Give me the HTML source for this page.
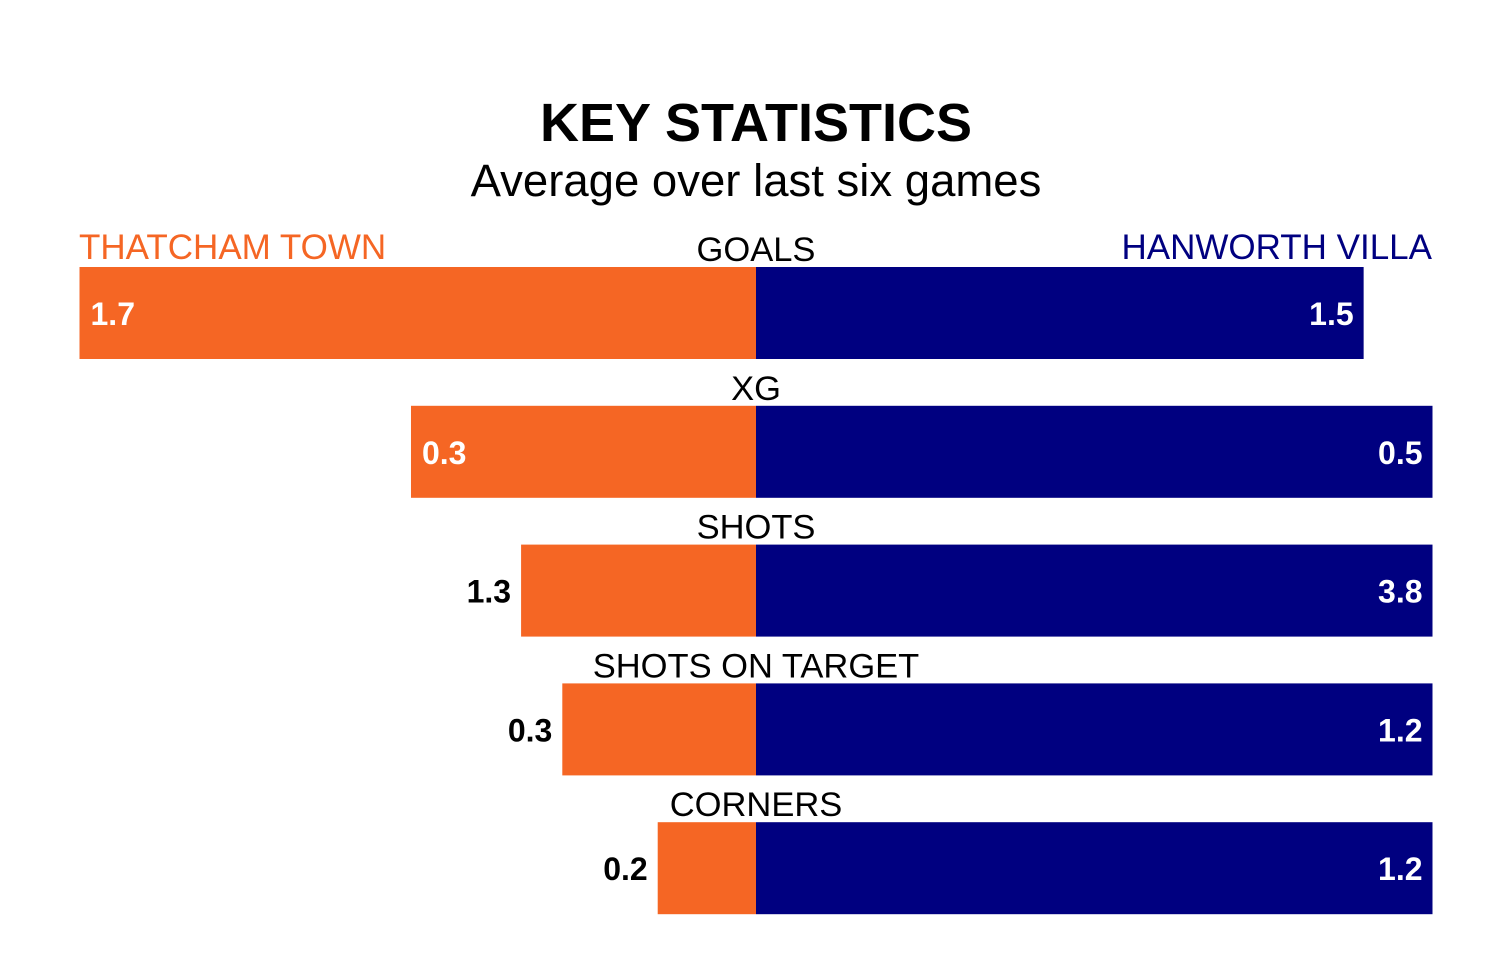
<!DOCTYPE html>
<html><head><meta charset="utf-8">
<style>
body{margin:0;background:#fff;}
svg{display:block;font-family:"Liberation Sans",Arial,sans-serif;}
</style></head>
<body>
<svg id="chart" width="1500" height="963" viewBox="0 0 1500 963">
<rect width="1500" height="963" fill="#fff"/>
<text x="756" y="141" text-anchor="middle" font-size="54" font-weight="bold" fill="#000">KEY STATISTICS</text>
<text x="756" y="196" text-anchor="middle" font-size="45.5" fill="#000">Average over last six games</text>
<text x="79" y="259" font-size="35" fill="#F56624">THATCHAM TOWN</text>
<text x="1432" y="259" text-anchor="end" font-size="35" fill="#000080">HANWORTH VILLA</text>
<g id="bars"></g>
</svg>
<script>
const categories = ["GOALS","XG","SHOTS","SHOTS ON TARGET","CORNERS"];
const homeValues = [1.67,0.255,1.33,0.335,0.17];
const awayValues = [1.5,0.5,3.83,1.17,1.17];
const homeLabels = ["1.7","0.3","1.3","0.3","0.2"];
const awayLabels = ["1.5","0.5","3.8","1.2","1.2"];

const NS="http://www.w3.org/2000/svg";
const cx=756, half=676.5, top0=267, step=138.8, bh=92;
const g=document.getElementById('bars');
function mk(tag,attrs,text){const e=document.createElementNS(NS,tag);for(const k in attrs)e.setAttribute(k,attrs[k]);if(text!==undefined)e.textContent=text;g.appendChild(e);return e;}
function xScale(v,max){return v/max*half;}
categories.forEach((c,i)=>{
  const max=Math.max(homeValues[i],awayValues[i]);
  const y=top0+i*step;
  const hw=xScale(homeValues[i],max), aw=xScale(awayValues[i],max);
  const hb=mk('rect',{x:cx-hw,y:y,width:hw,height:bh,fill:'#F56624'});
  
  
  const ab=mk('rect',{x:cx,y:y,width:aw,height:bh,fill:'#000080'});
  
  
  const cl=mk('text',{x:cx,y:y-6,'text-anchor':'middle','font-size':34.5,fill:'#000'},c);
  
  
  const inside=hw>300;
  const hl=mk('text',{x:inside?cx-hw+11:cx-hw-10,y:y+58,'text-anchor':inside?'start':'end','font-size':32,'font-weight':'bold',fill:inside?'#fff':'#000'},homeLabels[i]);
  
  
  const al=mk('text',{x:cx+aw-10,y:y+58,'text-anchor':'end','font-size':32,'font-weight':'bold',fill:'#fff'},awayLabels[i]);
  
  
});
</script>
</body></html>
